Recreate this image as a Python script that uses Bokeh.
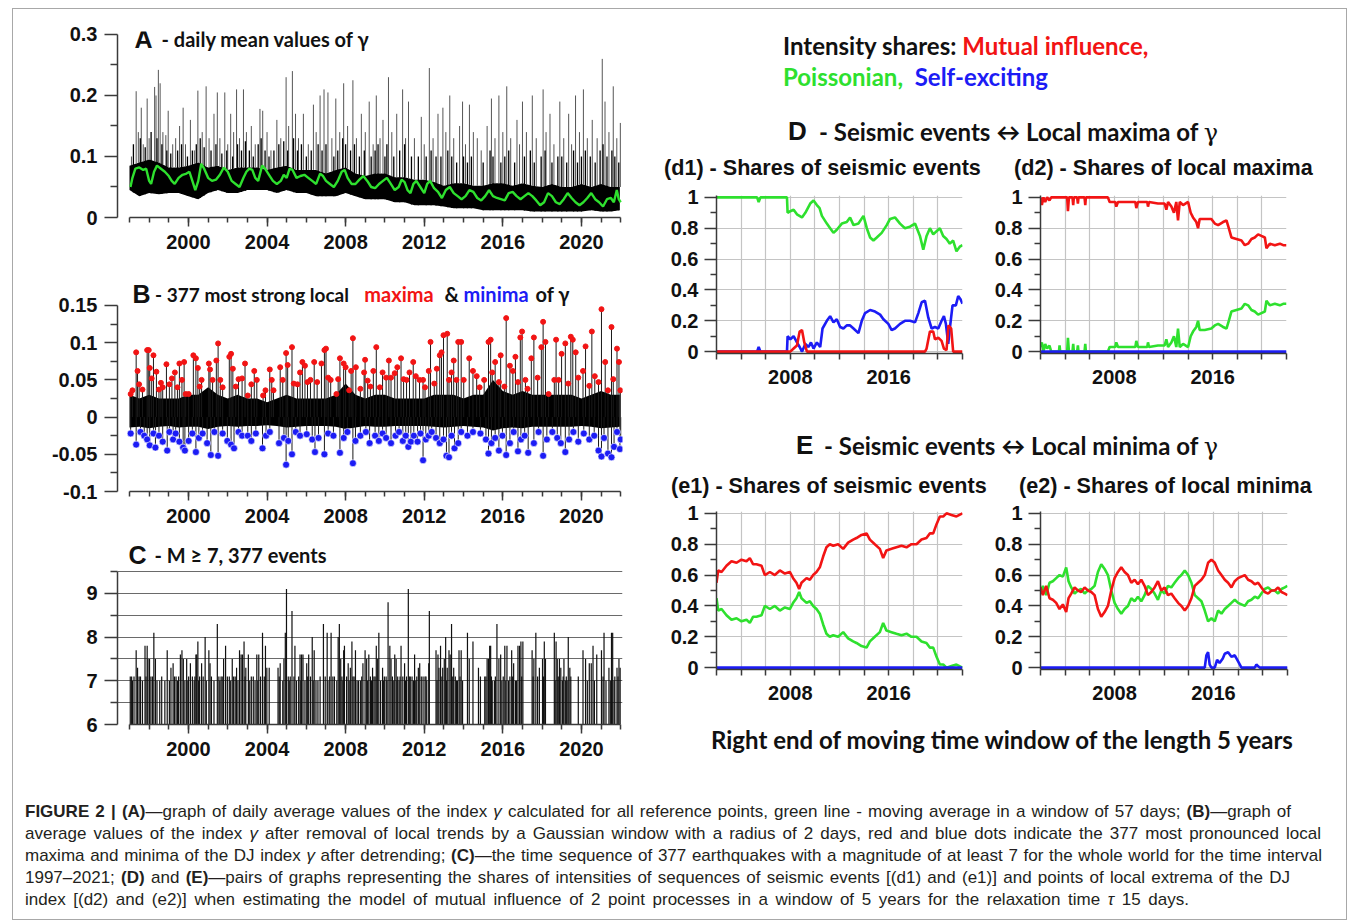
import numpy as np
from bokeh.plotting import figure
from bokeh.models import Range1d, FixedTicker, Label, Div, CustomJSTickFormatter
from bokeh.layouts import column, row
from bokeh.embed import file_html
from bokeh.resources import INLINE

RED = "#f21414"
GREEN = "#2ee02e"
BLUE = "#1c1cf5"
TICK_FONT = "Liberation Sans"
HEAD_FONT = "Lato"

# ---------------- Panel A: daily mean values of gamma ----------------
A_BAND_T = [1997.0, 1997.5, 1998.0, 1998.5, 1999.0, 1999.5, 2000.0, 2000.5, 2001.0, 2001.5,
            2002.0, 2002.5, 2003.0, 2003.5, 2004.0, 2004.5, 2005.0, 2005.5, 2006.0, 2006.5,
            2007.0, 2007.5, 2008.0, 2008.5, 2009.0, 2009.5, 2010.0, 2010.5, 2011.0, 2011.5,
            2012.0, 2012.5, 2013.0, 2013.5, 2014.0, 2014.5, 2015.0, 2015.5, 2016.0, 2016.5,
            2017.0, 2017.5, 2018.0, 2018.5, 2019.0, 2019.5, 2020.0, 2020.5, 2021.0, 2021.5, 2021.95]
A_BAND_LOW = [0.045, 0.035, 0.04, 0.038, 0.04, 0.04, 0.035, 0.03, 0.04, 0.045,
              0.04, 0.04, 0.045, 0.045, 0.045, 0.04, 0.045, 0.04, 0.04, 0.035,
              0.035, 0.035, 0.04, 0.035, 0.03, 0.03, 0.03, 0.025, 0.025, 0.02,
              0.02, 0.02, 0.018, 0.015, 0.015, 0.015, 0.012, 0.012, 0.012, 0.012,
              0.012, 0.01, 0.01, 0.01, 0.01, 0.01, 0.01, 0.012, 0.01, 0.01, 0.012]
A_BAND_HIGH = [0.085, 0.09, 0.095, 0.09, 0.082, 0.082, 0.085, 0.09, 0.082, 0.085,
               0.078, 0.082, 0.082, 0.082, 0.078, 0.082, 0.085, 0.078, 0.078, 0.078,
               0.072, 0.078, 0.082, 0.072, 0.068, 0.072, 0.072, 0.066, 0.066, 0.062,
               0.062, 0.058, 0.052, 0.056, 0.056, 0.052, 0.052, 0.056, 0.056, 0.052,
               0.056, 0.052, 0.05, 0.055, 0.05, 0.05, 0.055, 0.05, 0.055, 0.05, 0.05]
A_SPIKES = [(1997.1, 0.1), (1997.34, 0.207), (1997.45, 0.14), (1997.6, 0.18), (1997.7, 0.12),
            (1997.9, 0.195), (1998.0, 0.13), (1998.28, 0.214), (1998.35, 0.2), (1998.47, 0.242),
            (1998.56, 0.22), (1998.7, 0.14), (1998.85, 0.135), (1998.97, 0.175), (1999.2, 0.12),
            (1999.35, 0.13), (1999.55, 0.15), (1999.73, 0.18), (1999.85, 0.12), (2000.1, 0.16),
            (2000.3, 0.11), (2000.48, 0.208), (2000.7, 0.14), (2000.9, 0.215), (2001.05, 0.13),
            (2001.3, 0.17), (2001.47, 0.205), (2001.6, 0.13), (2001.85, 0.205), (2002.0, 0.12),
            (2002.15, 0.17), (2002.3, 0.14), (2002.45, 0.21), (2002.6, 0.13), (2002.8, 0.21),
            (2002.95, 0.14), (2003.2, 0.15), (2003.4, 0.12), (2003.64, 0.178), (2003.78, 0.175),
            (2004.0, 0.14), (2004.2, 0.11), (2004.5, 0.16), (2004.7, 0.13), (2004.97, 0.23),
            (2005.1, 0.15), (2005.29, 0.24), (2005.45, 0.17), (2005.6, 0.13), (2005.85, 0.17),
            (2006.1, 0.12), (2006.36, 0.185), (2006.5, 0.14), (2006.7, 0.2), (2006.9, 0.21),
            (2007.1, 0.205), (2007.3, 0.13), (2007.5, 0.195), (2007.7, 0.14), (2007.9, 0.22),
            (2008.1, 0.15), (2008.37, 0.225), (2008.55, 0.13), (2008.8, 0.17), (2009.0, 0.14),
            (2009.2, 0.19), (2009.4, 0.12), (2009.56, 0.2), (2009.75, 0.13), (2009.9, 0.16),
            (2010.18, 0.23), (2010.35, 0.14), (2010.6, 0.17), (2010.9, 0.21), (2011.05, 0.13),
            (2011.2, 0.19), (2011.5, 0.13), (2011.85, 0.165), (2012.0, 0.12), (2012.26, 0.245),
            (2012.45, 0.13), (2012.7, 0.17), (2012.95, 0.18), (2013.1, 0.14), (2013.3, 0.2),
            (2013.5, 0.13), (2013.8, 0.15), (2013.95, 0.19), (2014.1, 0.12), (2014.3, 0.185),
            (2014.5, 0.14), (2014.7, 0.13), (2014.9, 0.11), (2015.2, 0.15), (2015.42, 0.195),
            (2015.6, 0.13), (2015.8, 0.2), (2016.0, 0.14), (2016.2, 0.215), (2016.4, 0.13),
            (2016.72, 0.16), (2016.85, 0.12), (2017.0, 0.19), (2017.2, 0.14), (2017.5, 0.2),
            (2017.7, 0.13), (2018.05, 0.21), (2018.2, 0.14), (2018.4, 0.17), (2018.6, 0.12),
            (2018.9, 0.19), (2019.1, 0.13), (2019.35, 0.17), (2019.5, 0.12), (2019.7, 0.2),
            (2019.9, 0.14), (2020.1, 0.21), (2020.3, 0.13), (2020.55, 0.16), (2020.8, 0.13),
            (2021.06, 0.26), (2021.2, 0.19), (2021.4, 0.14), (2021.62, 0.215), (2021.8, 0.13),
            (2021.98, 0.155)]
A_MID = [(1997.2, 0.12), (1997.55, 0.13), (1997.8, 0.115), (1998.1, 0.14), (1998.4, 0.13), (1998.65, 0.12),
         (1998.9, 0.11), (1999.1, 0.105), (1999.45, 0.11), (1999.65, 0.12), (1999.95, 0.1), (2000.2, 0.11),
         (2000.4, 0.12), (2000.6, 0.13), (2000.8, 0.115), (2001.15, 0.11), (2001.4, 0.12), (2001.7, 0.105),
         (2001.95, 0.11), (2002.25, 0.1), (2002.5, 0.12), (2002.7, 0.11), (2002.9, 0.125), (2003.1, 0.11),
         (2003.3, 0.1), (2003.55, 0.12), (2003.7, 0.13), (2003.9, 0.11), (2004.1, 0.1), (2004.35, 0.11),
         (2004.6, 0.12), (2004.85, 0.125), (2005.05, 0.11), (2005.35, 0.13), (2005.55, 0.11), (2005.75, 0.12),
         (2006.0, 0.1), (2006.25, 0.11), (2006.6, 0.12), (2006.8, 0.11), (2007.0, 0.12), (2007.4, 0.1),
         (2007.6, 0.11), (2007.85, 0.13), (2008.0, 0.12), (2008.25, 0.11), (2008.45, 0.12), (2008.7, 0.1),
         (2008.95, 0.11), (2009.3, 0.1), (2009.5, 0.11), (2009.65, 0.12), (2010.0, 0.1), (2010.1, 0.12),
         (2010.45, 0.1), (2010.75, 0.11), (2011.0, 0.12), (2011.35, 0.1), (2011.7, 0.1), (2012.1, 0.1),
         (2012.35, 0.11), (2012.6, 0.1), (2012.85, 0.1), (2013.2, 0.11), (2013.4, 0.1), (2013.65, 0.09),
         (2014.0, 0.1), (2014.2, 0.09), (2014.4, 0.1), (2015.0, 0.09), (2015.35, 0.11), (2015.5, 0.1),
         (2015.9, 0.09), (2016.1, 0.1), (2016.3, 0.11), (2016.6, 0.09), (2017.1, 0.1), (2017.4, 0.11),
         (2017.6, 0.09), (2017.95, 0.1), (2018.15, 0.11), (2018.5, 0.09), (2018.8, 0.1), (2019.0, 0.1),
         (2019.25, 0.09), (2019.6, 0.11), (2019.8, 0.09), (2020.0, 0.1), (2020.2, 0.11), (2020.45, 0.1),
         (2020.7, 0.09), (2020.95, 0.11), (2021.1, 0.12), (2021.3, 0.1), (2021.55, 0.11), (2021.7, 0.1),
         (2021.9, 0.09)]
A_GREEN = [(1997.05, 0.05), (1997.15, 0.065), (1997.3, 0.08), (1997.5, 0.082), (1997.7, 0.078),
           (1997.85, 0.08), (1998.0, 0.06), (1998.1, 0.055), (1998.25, 0.075), (1998.4, 0.085),
           (1998.6, 0.08), (1998.8, 0.075), (1999.0, 0.068), (1999.15, 0.06), (1999.3, 0.055),
           (1999.5, 0.065), (1999.7, 0.07), (1999.9, 0.072), (2000.05, 0.075), (2000.2, 0.06),
           (2000.35, 0.045), (2000.5, 0.06), (2000.65, 0.088), (2000.8, 0.08), (2001.0, 0.065),
           (2001.2, 0.06), (2001.4, 0.062), (2001.6, 0.07), (2001.8, 0.082), (2002.0, 0.075),
           (2002.2, 0.06), (2002.4, 0.055), (2002.6, 0.05), (2002.8, 0.065), (2002.95, 0.075),
           (2003.1, 0.08), (2003.25, 0.078), (2003.4, 0.065), (2003.55, 0.06), (2003.75, 0.085),
           (2003.9, 0.08), (2004.1, 0.07), (2004.3, 0.06), (2004.5, 0.055), (2004.7, 0.06),
           (2004.85, 0.07), (2005.0, 0.065), (2005.15, 0.08), (2005.3, 0.078), (2005.5, 0.065),
           (2005.7, 0.068), (2005.9, 0.07), (2006.1, 0.065), (2006.3, 0.06), (2006.5, 0.055),
           (2006.7, 0.072), (2006.85, 0.068), (2007.0, 0.06), (2007.2, 0.055), (2007.4, 0.05),
           (2007.6, 0.06), (2007.8, 0.075), (2007.95, 0.078), (2008.1, 0.065), (2008.3, 0.055),
           (2008.5, 0.055), (2008.7, 0.062), (2008.9, 0.068), (2009.1, 0.06), (2009.3, 0.05),
           (2009.5, 0.048), (2009.7, 0.055), (2009.9, 0.06), (2010.1, 0.065), (2010.3, 0.055),
           (2010.5, 0.045), (2010.7, 0.05), (2010.85, 0.062), (2011.0, 0.058), (2011.15, 0.045),
           (2011.3, 0.04), (2011.45, 0.055), (2011.6, 0.06), (2011.8, 0.05), (2012.0, 0.04),
           (2012.15, 0.055), (2012.3, 0.06), (2012.5, 0.048), (2012.7, 0.042), (2012.9, 0.032),
           (2013.1, 0.045), (2013.3, 0.05), (2013.5, 0.04), (2013.7, 0.035), (2013.9, 0.03),
           (2014.1, 0.035), (2014.3, 0.045), (2014.5, 0.042), (2014.7, 0.032), (2014.9, 0.028),
           (2015.1, 0.035), (2015.3, 0.045), (2015.5, 0.035), (2015.7, 0.032), (2015.9, 0.03),
           (2016.1, 0.028), (2016.3, 0.04), (2016.5, 0.042), (2016.7, 0.035), (2016.9, 0.03),
           (2017.1, 0.035), (2017.3, 0.04), (2017.5, 0.035), (2017.7, 0.028), (2017.9, 0.02),
           (2018.1, 0.025), (2018.3, 0.04), (2018.5, 0.035), (2018.7, 0.025), (2018.9, 0.022),
           (2019.1, 0.03), (2019.3, 0.04), (2019.5, 0.032), (2019.7, 0.025), (2019.9, 0.02),
           (2020.1, 0.025), (2020.3, 0.032), (2020.5, 0.04), (2020.7, 0.03), (2020.9, 0.025),
           (2021.1, 0.018), (2021.3, 0.03), (2021.5, 0.032), (2021.65, 0.025), (2021.8, 0.045),
           (2021.9, 0.03), (2022.0, 0.025)]

# ---------------- Panel B: detrended gamma with extrema ----------------
B_BAND_LOW = [-0.014, -0.013, -0.015, -0.013, -0.012, -0.014, -0.013, -0.013, -0.016, -0.013,
              -0.012, -0.013, -0.012, -0.012, -0.011, -0.012, -0.014, -0.013, -0.012, -0.012,
              -0.012, -0.013, -0.016, -0.014, -0.012, -0.013, -0.013, -0.012, -0.012, -0.012,
              -0.012, -0.013, -0.014, -0.013, -0.012, -0.013, -0.014, -0.018, -0.015, -0.014,
              -0.015, -0.013, -0.013, -0.013, -0.013, -0.013, -0.012, -0.013, -0.015, -0.014, -0.013]
B_BAND_HIGH = [0.03, 0.025, 0.03, 0.025, 0.025, 0.025, 0.03, 0.03, 0.04, 0.03,
               0.025, 0.03, 0.025, 0.025, 0.02, 0.025, 0.03, 0.025, 0.025, 0.025,
               0.025, 0.03, 0.045, 0.03, 0.025, 0.03, 0.03, 0.025, 0.025, 0.025,
               0.025, 0.03, 0.03, 0.03, 0.025, 0.03, 0.03, 0.05, 0.035, 0.03,
               0.035, 0.03, 0.03, 0.03, 0.03, 0.03, 0.025, 0.03, 0.035, 0.03, 0.03]
B_MAXIMA = [(1997.06, 0.031), (1997.15, 0.036), (1997.34, 0.087), (1997.41, 0.062), (1997.49, 0.044),
            (1997.66, 0.037), (1997.9, 0.09), (1997.98, 0.09), (1998.03, 0.066), (1998.13, 0.052),
            (1998.22, 0.083), (1998.37, 0.061), (1998.5, 0.037), (1998.6, 0.046), (1998.69, 0.04),
            (1998.88, 0.071), (1999.03, 0.044), (1999.16, 0.052), (1999.31, 0.06), (1999.44, 0.04),
            (1999.54, 0.072), (1999.67, 0.05), (1999.78, 0.074), (1999.86, 0.031), (2000.01, 0.031),
            (2000.25, 0.083), (2000.38, 0.079), (2000.48, 0.066), (2000.57, 0.041), (2000.67, 0.05),
            (2001.04, 0.072), (2001.1, 0.064), (2001.23, 0.05), (2001.42, 0.076), (2001.51, 0.099),
            (2001.62, 0.05), (2001.74, 0.04), (2002.08, 0.081), (2002.17, 0.085), (2002.26, 0.065),
            (2002.41, 0.041), (2002.55, 0.051), (2002.73, 0.052), (2002.88, 0.072), (2003.02, 0.029),
            (2003.2, 0.044), (2003.35, 0.062), (2003.48, 0.05), (2003.8, 0.029), (2003.92, 0.036),
            (2004.14, 0.064), (2004.24, 0.05), (2004.33, 0.036), (2004.67, 0.067), (2004.8, 0.05),
            (2004.97, 0.086), (2005.05, 0.07), (2005.27, 0.094), (2005.36, 0.045), (2005.55, 0.044),
            (2005.68, 0.06), (2005.8, 0.074), (2005.93, 0.069), (2006.06, 0.047), (2006.21, 0.05),
            (2006.4, 0.074), (2006.55, 0.047), (2006.77, 0.072), (2006.92, 0.09), (2007.0, 0.092),
            (2007.11, 0.053), (2007.24, 0.05), (2007.53, 0.031), (2007.62, 0.051), (2007.71, 0.079),
            (2007.9, 0.072), (2008.0, 0.067), (2008.18, 0.036), (2008.28, 0.062), (2008.37, 0.106),
            (2008.52, 0.067), (2008.75, 0.038), (2008.94, 0.06), (2008.99, 0.077), (2009.12, 0.049),
            (2009.26, 0.041), (2009.41, 0.062), (2009.56, 0.094), (2009.74, 0.04), (2009.88, 0.06),
            (2010.06, 0.053), (2010.2, 0.076), (2010.31, 0.053), (2010.5, 0.059), (2010.63, 0.067),
            (2010.82, 0.079), (2010.95, 0.051), (2011.1, 0.05), (2011.25, 0.06), (2011.44, 0.074),
            (2011.57, 0.055), (2011.76, 0.05), (2011.94, 0.05), (2012.04, 0.04), (2012.23, 0.062),
            (2012.32, 0.101), (2012.51, 0.045), (2012.64, 0.065), (2012.79, 0.083), (2012.88, 0.087),
            (2012.98, 0.11), (2013.17, 0.112), (2013.26, 0.05), (2013.39, 0.06), (2013.5, 0.076),
            (2013.64, 0.05), (2013.73, 0.101), (2013.88, 0.101), (2014.01, 0.05), (2014.29, 0.079),
            (2014.48, 0.062), (2014.67, 0.055), (2014.82, 0.04), (2015.05, 0.05), (2015.27, 0.101),
            (2015.38, 0.104), (2015.46, 0.06), (2015.61, 0.074), (2015.8, 0.047), (2015.89, 0.083),
            (2016.08, 0.041), (2016.17, 0.133), (2016.36, 0.069), (2016.51, 0.062), (2016.64, 0.081),
            (2016.77, 0.047), (2016.89, 0.107), (2016.98, 0.115), (2017.15, 0.05), (2017.26, 0.038),
            (2017.45, 0.079), (2017.58, 0.107), (2017.77, 0.053), (2017.96, 0.094), (2018.05, 0.128),
            (2018.17, 0.101), (2018.33, 0.031), (2018.62, 0.05), (2018.71, 0.104), (2018.84, 0.05),
            (2018.99, 0.085), (2019.18, 0.099), (2019.33, 0.045), (2019.46, 0.108), (2019.56, 0.104),
            (2019.71, 0.087), (2019.84, 0.053), (2020.08, 0.062), (2020.21, 0.095), (2020.4, 0.042),
            (2020.53, 0.115), (2020.68, 0.055), (2020.87, 0.047), (2021.02, 0.145), (2021.21, 0.074),
            (2021.35, 0.036), (2021.53, 0.121), (2021.62, 0.051), (2021.81, 0.092), (2021.91, 0.074),
            (2021.98, 0.036)]
B_MINIMA = [(1997.06, -0.022), (1997.34, -0.037), (1997.56, -0.02), (1997.75, -0.025), (1997.9, -0.03),
            (1998.03, -0.038), (1998.22, -0.022), (1998.32, -0.041), (1998.5, -0.025), (1998.69, -0.033),
            (1998.92, -0.045), (1999.03, -0.02), (1999.22, -0.03), (1999.35, -0.022), (1999.54, -0.033),
            (1999.73, -0.041), (1999.82, -0.045), (2000.01, -0.032), (2000.2, -0.022), (2000.38, -0.047),
            (2000.53, -0.028), (2000.72, -0.022), (2000.95, -0.035), (2001.14, -0.051), (2001.32, -0.02),
            (2001.51, -0.052), (2001.74, -0.022), (2001.98, -0.032), (2002.17, -0.037), (2002.32, -0.042),
            (2002.55, -0.02), (2002.73, -0.025), (2003.02, -0.025), (2003.2, -0.032), (2003.43, -0.022),
            (2003.77, -0.042), (2003.95, -0.025), (2004.14, -0.02), (2004.61, -0.035), (2004.86, -0.028),
            (2004.97, -0.064), (2005.08, -0.032), (2005.27, -0.05), (2005.46, -0.02), (2005.68, -0.025),
            (2006.02, -0.023), (2006.3, -0.03), (2006.44, -0.047), (2006.62, -0.028), (2006.92, -0.05),
            (2007.11, -0.022), (2007.38, -0.025), (2007.71, -0.048), (2007.9, -0.028), (2008.09, -0.02),
            (2008.37, -0.062), (2008.5, -0.032), (2008.75, -0.025), (2009.03, -0.02), (2009.22, -0.035),
            (2009.5, -0.025), (2009.69, -0.032), (2009.88, -0.022), (2010.06, -0.028), (2010.31, -0.035),
            (2010.54, -0.025), (2010.72, -0.02), (2010.91, -0.032), (2011.06, -0.025), (2011.19, -0.04),
            (2011.32, -0.033), (2011.47, -0.025), (2011.66, -0.033), (2011.81, -0.022), (2011.94, -0.058),
            (2012.08, -0.03), (2012.23, -0.025), (2012.38, -0.02), (2012.6, -0.028), (2012.79, -0.035),
            (2012.98, -0.03), (2013.13, -0.052), (2013.26, -0.054), (2013.39, -0.025), (2013.54, -0.042),
            (2013.73, -0.035), (2013.88, -0.02), (2014.2, -0.025), (2014.48, -0.02), (2014.86, -0.022),
            (2015.14, -0.03), (2015.27, -0.049), (2015.42, -0.035), (2015.61, -0.028), (2015.8, -0.045),
            (2015.98, -0.025), (2016.17, -0.051), (2016.36, -0.035), (2016.55, -0.02), (2016.77, -0.046),
            (2016.92, -0.03), (2017.11, -0.025), (2017.29, -0.048), (2017.58, -0.035), (2017.82, -0.02),
            (2018.05, -0.052), (2018.24, -0.03), (2018.52, -0.02), (2018.77, -0.028), (2018.95, -0.035),
            (2019.18, -0.047), (2019.37, -0.03), (2019.59, -0.02), (2019.84, -0.033), (2020.12, -0.022),
            (2020.4, -0.03), (2020.65, -0.025), (2020.87, -0.045), (2021.02, -0.053), (2021.15, -0.028),
            (2021.35, -0.049), (2021.53, -0.054), (2021.66, -0.04), (2021.81, -0.02), (2021.96, -0.043),
            (2022.0, -0.03)]

# ---------------- Panel C: earthquakes M >= 7 ----------------
C_EVENTS = [(1997.04, 7.1), (1997.11, 7.1), (1997.23, 7.1), (1997.34, 7.7), (1997.41, 7.3), (1997.49, 7.1),
            (1997.66, 7.0), (1997.79, 7.8), (1997.9, 7.8), (1997.94, 7.5), (1998.02, 7.5), (1998.09, 7.1),
            (1998.17, 7.1), (1998.24, 8.1), (1998.32, 7.5), (1998.54, 7.0), (1998.64, 7.1), (1998.92, 7.7),
            (1999.03, 7.0), (1999.11, 7.3), (1999.22, 7.4), (1999.29, 7.1), (1999.37, 7.1), (1999.44, 7.0),
            (1999.59, 7.6), (1999.67, 7.7), (1999.74, 7.5), (1999.82, 7.0), (1999.91, 7.5), (2000.01, 7.1),
            (2000.1, 7.4), (2000.2, 7.1), (2000.29, 7.0), (2000.38, 7.6), (2000.42, 7.6), (2000.48, 7.9),
            (2000.57, 7.1), (2000.67, 7.4), (2000.85, 8.0), (2000.91, 7.0), (2001.04, 7.7), (2001.1, 7.4),
            (2001.17, 7.1), (2001.47, 8.3), (2001.55, 7.1), (2001.66, 7.1), (2001.79, 7.5), (2001.89, 7.8),
            (2001.98, 7.1), (2002.08, 7.1), (2002.23, 7.5), (2002.3, 7.1), (2002.45, 7.3), (2002.6, 7.7),
            (2002.68, 7.6), (2002.75, 7.6), (2002.83, 7.9), (2002.92, 7.3), (2003.05, 7.6), (2003.2, 7.1),
            (2003.39, 7.0), (2003.48, 7.6), (2003.58, 7.6), (2003.67, 7.1), (2003.77, 8.1), (2003.86, 7.1),
            (2003.92, 7.8), (2003.99, 7.3), (2004.11, 7.3), (2004.56, 7.3), (2004.67, 7.4), (2004.8, 7.0),
            (2004.86, 7.5), (2004.93, 8.1), (2004.99, 9.1), (2005.08, 7.1), (2005.18, 7.1), (2005.27, 8.6),
            (2005.42, 7.8), (2005.5, 7.0), (2005.61, 7.1), (2005.68, 7.6), (2005.76, 7.6), (2005.83, 7.6),
            (2005.93, 7.0), (2006.02, 7.4), (2006.12, 7.6), (2006.21, 7.1), (2006.3, 8.0), (2006.4, 7.7),
            (2006.49, 7.0), (2006.59, 7.0), (2006.87, 8.3), (2006.96, 7.1), (2007.06, 8.1), (2007.19, 7.1),
            (2007.26, 8.1), (2007.43, 7.1), (2007.62, 8.0), (2007.68, 8.3), (2007.75, 7.5), (2007.81, 7.1),
            (2007.9, 7.7), (2007.94, 7.8), (2008.05, 7.1), (2008.13, 7.4), (2008.24, 7.3), (2008.32, 7.9),
            (2008.43, 7.1), (2008.5, 7.7), (2008.65, 7.0), (2008.75, 7.0), (2008.88, 7.4), (2008.99, 7.7),
            (2009.07, 7.5), (2009.18, 7.6), (2009.26, 7.1), (2009.37, 7.3), (2009.44, 7.1), (2009.56, 7.8),
            (2009.63, 7.5), (2009.69, 8.1), (2009.78, 7.0), (2009.88, 7.3), (2009.97, 7.1), (2010.06, 7.1),
            (2010.16, 8.8), (2010.25, 7.8), (2010.31, 7.5), (2010.38, 7.1), (2010.5, 7.6), (2010.57, 7.5),
            (2010.65, 7.1), (2010.72, 7.0), (2010.82, 7.8), (2010.91, 7.1), (2011.0, 7.4), (2011.1, 7.1),
            (2011.19, 9.1), (2011.29, 7.1), (2011.38, 7.1), (2011.51, 7.6), (2011.62, 7.1), (2011.7, 7.3),
            (2011.77, 7.4), (2011.85, 7.1), (2011.94, 7.1), (2012.04, 7.1), (2012.13, 7.0), (2012.23, 7.4),
            (2012.26, 8.6), (2012.6, 7.7), (2012.7, 7.6), (2012.75, 7.3), (2012.83, 7.8), (2012.94, 7.3),
            (2013.02, 7.5), (2013.09, 8.0), (2013.17, 7.3), (2013.26, 7.7), (2013.32, 7.6), (2013.39, 8.3),
            (2013.5, 7.3), (2013.58, 7.1), (2013.69, 7.0), (2013.77, 7.7), (2013.88, 7.7), (2013.95, 7.0),
            (2014.2, 8.1), (2014.29, 7.5), (2014.48, 7.9), (2014.76, 7.3), (2014.86, 7.1), (2015.08, 7.1),
            (2015.2, 7.5), (2015.27, 7.5), (2015.33, 7.8), (2015.38, 7.8), (2015.46, 7.0), (2015.57, 7.0),
            (2015.7, 8.3), (2015.8, 7.5), (2015.89, 7.6), (2016.02, 7.1), (2016.1, 7.8), (2016.21, 7.8),
            (2016.29, 7.0), (2016.36, 7.1), (2016.45, 7.7), (2016.55, 7.4), (2016.64, 7.0), (2016.77, 7.8),
            (2016.85, 7.8), (2016.92, 7.9), (2017.02, 7.9), (2017.49, 7.7), (2017.58, 7.5), (2017.68, 8.1),
            (2017.77, 7.1), (2017.86, 7.3), (2018.02, 7.5), (2018.11, 7.9), (2018.17, 7.5), (2018.62, 8.1),
            (2018.71, 7.9), (2018.77, 7.5), (2018.88, 7.5), (2018.95, 7.3), (2019.03, 7.0), (2019.11, 7.5),
            (2019.18, 7.0), (2019.27, 7.0), (2019.33, 8.0), (2019.41, 7.3), (2019.46, 7.1), (2019.84, 7.1),
            (2020.08, 7.7), (2020.21, 7.5), (2020.4, 7.4), (2020.5, 7.4), (2020.59, 7.8), (2020.78, 7.6),
            (2021.02, 7.7), (2021.15, 8.1), (2021.25, 7.0), (2021.4, 7.3), (2021.53, 8.1), (2021.59, 8.1),
            (2021.66, 7.0), (2021.81, 7.3), (2021.91, 7.5), (2021.97, 7.3),
            (1997.15, 7.0), (1997.56, 7.1), (1997.84, 7.1), (1998.4, 7.0), (1998.8, 7.0), (1999.5, 7.1),
            (1999.97, 7.0), (2000.33, 7.1), (2000.52, 7.0), (2000.75, 7.1), (2001.3, 7.0), (2001.6, 7.0),
            (2001.72, 7.1), (2002.15, 7.0), (2002.38, 7.1), (2002.52, 7.0), (2002.88, 7.1), (2003.12, 7.0),
            (2003.3, 7.1), (2003.53, 7.0), (2004.62, 7.1), (2005.13, 7.0), (2005.37, 7.1), (2005.72, 7.0),
            (2006.07, 7.1), (2006.35, 7.0), (2006.7, 7.1), (2007.1, 7.0), (2007.35, 7.1), (2007.55, 7.0),
            (2007.86, 7.0), (2008.18, 7.0), (2008.37, 7.1), (2008.58, 7.0), (2008.82, 7.1), (2009.12, 7.0),
            (2009.32, 7.0), (2009.5, 7.1), (2009.92, 7.0), (2010.1, 7.0), (2010.45, 7.0), (2010.61, 7.0),
            (2010.77, 7.1), (2011.05, 7.0), (2011.24, 7.1), (2011.45, 7.0), (2011.57, 7.0), (2012.09, 7.1),
            (2012.65, 7.0), (2012.9, 7.1), (2013.13, 7.0), (2013.45, 7.1), (2013.64, 7.0), (2013.82, 7.1),
            (2015.14, 7.1), (2015.42, 7.1), (2015.62, 7.1), (2015.95, 7.0), (2016.15, 7.0), (2016.5, 7.1),
            (2016.7, 7.0), (2016.96, 7.1), (2017.54, 7.1), (2018.07, 7.1), (2018.66, 7.0), (2018.82, 7.1),
            (2019.07, 7.1), (2019.23, 7.1), (2020.3, 7.0), (2020.66, 7.0), (2021.1, 7.1), (2021.47, 7.0),
            (2021.7, 7.1), (2021.86, 7.1)]

# ---------------- Panels D and E: intensity shares ----------------
D1_GREEN = [(2002.0, 1.0), (2005.3, 1.0), (2005.43, 0.97), (2005.57, 1.0), (2007.73, 1.0), (2007.78, 0.9),
            (2008.0, 0.91), (2008.27, 0.92), (2008.54, 0.89), (2008.95, 0.87), (2009.22, 0.9), (2009.62, 0.96),
            (2009.89, 0.98), (2010.16, 0.95), (2010.38, 0.93), (2010.57, 0.88), (2010.97, 0.83), (2011.24, 0.8),
            (2011.51, 0.77), (2011.78, 0.79), (2012.19, 0.83), (2012.59, 0.84), (2012.86, 0.87), (2013.14, 0.82),
            (2013.54, 0.83), (2013.95, 0.88), (2014.22, 0.8), (2014.49, 0.74), (2014.76, 0.72), (2015.03, 0.74),
            (2015.43, 0.77), (2015.84, 0.82), (2016.11, 0.86), (2016.51, 0.87), (2016.92, 0.83), (2017.32, 0.8),
            (2017.73, 0.81), (2018.14, 0.83), (2018.54, 0.75), (2018.81, 0.66), (2019.08, 0.75), (2019.35, 0.8),
            (2019.62, 0.76), (2019.89, 0.78), (2020.16, 0.8), (2020.43, 0.75), (2020.7, 0.73), (2020.97, 0.7),
            (2021.24, 0.72), (2021.51, 0.65), (2021.78, 0.68), (2022.0, 0.69)]
D1_BLUE = [(2002.0, 0.0), (2005.3, 0.0), (2005.43, 0.03), (2005.57, 0.0), (2007.73, 0.0), (2007.78, 0.1),
           (2008.0, 0.08), (2008.27, 0.1), (2008.54, 0.06), (2008.76, 0.03), (2008.95, 0.0), (2009.22, 0.05),
           (2009.49, 0.03), (2009.68, 0.06), (2009.89, 0.02), (2010.16, 0.06), (2010.43, 0.03), (2010.62, 0.15),
           (2010.97, 0.2), (2011.24, 0.23), (2011.51, 0.19), (2011.78, 0.21), (2012.05, 0.16), (2012.32, 0.15),
           (2012.59, 0.17), (2012.86, 0.17), (2013.14, 0.15), (2013.54, 0.12), (2013.81, 0.2), (2014.08, 0.25),
           (2014.49, 0.27), (2014.89, 0.26), (2015.3, 0.24), (2015.57, 0.21), (2015.97, 0.18), (2016.24, 0.14),
           (2016.51, 0.15), (2016.92, 0.18), (2017.32, 0.2), (2017.73, 0.2), (2018.14, 0.19), (2018.41, 0.25),
           (2018.68, 0.32), (2018.95, 0.33), (2019.22, 0.22), (2019.49, 0.15), (2019.76, 0.16), (2020.03, 0.15),
           (2020.3, 0.2), (2020.49, 0.23), (2020.65, 0.18), (2020.84, 0.05), (2020.97, 0.15), (2021.19, 0.3),
           (2021.46, 0.3), (2021.65, 0.36), (2021.84, 0.34), (2022.0, 0.31)]
D1_RED = [(2002.0, 0.0), (2008.0, 0.0), (2008.27, 0.02), (2008.54, 0.04), (2008.76, 0.13), (2008.95, 0.14),
          (2009.14, 0.06), (2009.35, 0.0), (2018.95, 0.0), (2019.08, 0.02), (2019.35, 0.13), (2019.62, 0.13),
          (2019.76, 0.08), (2020.03, 0.09), (2020.3, 0.07), (2020.49, 0.02), (2020.7, 0.01), (2020.86, 0.17),
          (2021.08, 0.15), (2021.24, 0.0), (2022.0, 0.0)]
D2_RED = [(2002.0, 1.0), (2002.11, 0.95), (2002.24, 1.0), (2002.38, 0.97), (2002.54, 1.0), (2002.73, 0.98),
          (2002.87, 1.0), (2004.17, 1.0), (2004.23, 0.91), (2004.31, 1.0), (2004.6, 1.0), (2004.66, 0.95),
          (2004.71, 1.0), (2004.98, 1.0), (2005.04, 0.96), (2005.09, 1.0), (2005.58, 1.0), (2005.64, 0.95),
          (2005.69, 1.0), (2007.48, 1.0), (2007.62, 0.97), (2008.08, 0.97), (2008.16, 0.94), (2008.3, 0.97),
          (2009.71, 0.97), (2009.79, 0.93), (2009.92, 0.97), (2010.68, 0.97), (2010.74, 0.94), (2010.82, 0.97),
          (2011.55, 0.96), (2012.09, 0.96), (2012.23, 0.92), (2012.37, 0.97), (2012.64, 0.94), (2012.85, 0.9),
          (2013.04, 0.97), (2013.18, 0.85), (2013.32, 0.97), (2013.59, 0.95), (2014.0, 0.97), (2014.21, 0.9),
          (2014.4, 0.87), (2014.67, 0.84), (2014.81, 0.8), (2014.94, 0.86), (2015.35, 0.86), (2015.89, 0.86),
          (2016.17, 0.83), (2016.44, 0.82), (2016.84, 0.84), (2017.12, 0.85), (2017.31, 0.8), (2017.52, 0.74),
          (2017.93, 0.73), (2018.34, 0.72), (2018.61, 0.69), (2018.88, 0.7), (2019.15, 0.73), (2019.42, 0.74),
          (2019.69, 0.76), (2019.96, 0.75), (2020.24, 0.74), (2020.37, 0.67), (2020.64, 0.7), (2021.05, 0.69),
          (2021.46, 0.7), (2021.73, 0.69), (2022.0, 0.69)]
D2_GREEN = [(2002.0, 0.03), (2002.11, 0.06), (2002.24, 0.0), (2002.38, 0.05), (2002.54, 0.02), (2002.73, 0.04),
            (2002.87, 0.0), (2003.5, 0.0), (2003.55, 0.04), (2003.6, 0.0), (2004.17, 0.0), (2004.23, 0.09),
            (2004.31, 0.0), (2004.6, 0.0), (2004.66, 0.05), (2004.71, 0.0), (2004.98, 0.0), (2005.04, 0.04),
            (2005.09, 0.0), (2005.58, 0.0), (2005.64, 0.05), (2005.69, 0.0), (2007.48, 0.0), (2007.62, 0.03),
            (2008.08, 0.03), (2008.16, 0.06), (2008.3, 0.03), (2009.71, 0.03), (2009.79, 0.07), (2009.92, 0.03),
            (2010.68, 0.03), (2010.74, 0.06), (2010.82, 0.03), (2011.55, 0.04), (2012.09, 0.04), (2012.23, 0.08),
            (2012.37, 0.03), (2012.64, 0.06), (2012.85, 0.1), (2013.04, 0.03), (2013.18, 0.15), (2013.32, 0.03),
            (2013.59, 0.05), (2014.0, 0.03), (2014.21, 0.1), (2014.4, 0.13), (2014.67, 0.16), (2014.81, 0.2),
            (2014.94, 0.14), (2015.35, 0.14), (2015.89, 0.15), (2016.17, 0.17), (2016.44, 0.18), (2016.84, 0.16),
            (2017.12, 0.15), (2017.31, 0.2), (2017.52, 0.26), (2017.93, 0.27), (2018.34, 0.28), (2018.61, 0.31),
            (2018.88, 0.3), (2019.15, 0.27), (2019.42, 0.26), (2019.69, 0.24), (2019.96, 0.25), (2020.24, 0.26),
            (2020.37, 0.33), (2020.64, 0.3), (2021.05, 0.31), (2021.46, 0.3), (2021.73, 0.31), (2022.0, 0.31)]
D2_BLUE = [(2002.0, 0.0), (2022.0, 0.0)]

E1_T = [2002.0, 2002.14, 2002.41, 2002.81, 2003.22, 2003.63, 2004.03, 2004.44, 2004.71, 2004.98,
        2005.25, 2005.66, 2005.93, 2006.34, 2006.74, 2007.15, 2007.56, 2007.96, 2008.23, 2008.5,
        2008.72, 2008.91, 2009.32, 2009.59, 2009.86, 2010.13, 2010.4, 2010.67, 2010.94, 2011.21,
        2011.49, 2011.89, 2012.3, 2012.7, 2013.11, 2013.38, 2013.79, 2014.2, 2014.47, 2014.87,
        2015.28, 2015.55, 2015.82, 2016.23, 2016.63, 2017.04, 2017.45, 2017.85, 2018.26, 2018.67,
        2019.07, 2019.34, 2019.62, 2019.89, 2020.16, 2020.43, 2020.7, 2021.1, 2021.51, 2022.0]
E1_RED = [0.55, 0.63, 0.62, 0.66, 0.69, 0.68, 0.7, 0.69, 0.71, 0.67,
          0.67, 0.66, 0.6, 0.62, 0.6, 0.63, 0.61, 0.62, 0.58, 0.55,
          0.51, 0.55, 0.58, 0.57, 0.6, 0.62, 0.65, 0.72, 0.78, 0.8,
          0.79, 0.8, 0.77, 0.81, 0.83, 0.84, 0.86, 0.87, 0.83, 0.8,
          0.77, 0.71, 0.76, 0.77, 0.78, 0.79, 0.78, 0.8, 0.8, 0.83,
          0.84, 0.87, 0.87, 0.93, 0.98, 0.98, 1.0, 0.99, 0.98, 1.0]
E1_GREEN = [0.45, 0.37, 0.38, 0.34, 0.31, 0.32, 0.3, 0.31, 0.29, 0.33,
            0.33, 0.34, 0.4, 0.38, 0.4, 0.37, 0.39, 0.38, 0.42, 0.45,
            0.49, 0.45, 0.42, 0.43, 0.4, 0.38, 0.35, 0.28, 0.22, 0.2,
            0.21, 0.2, 0.23, 0.19, 0.17, 0.16, 0.14, 0.13, 0.17, 0.2,
            0.23, 0.29, 0.24, 0.23, 0.22, 0.21, 0.22, 0.2, 0.2, 0.17,
            0.16, 0.13, 0.13, 0.07, 0.02, 0.02, 0.0, 0.01, 0.02, 0.0]
E1_BLUE = [(2002.0, 0.0), (2022.0, 0.0)]

E2_T = [2002.0, 2002.19, 2002.46, 2002.73, 2003.0, 2003.27, 2003.54, 2003.81, 2004.08, 2004.27,
        2004.49, 2004.76, 2005.03, 2005.3, 2005.57, 2005.84, 2006.11, 2006.38, 2006.65, 2006.92,
        2007.19, 2007.46, 2007.73, 2008.0, 2008.27, 2008.54, 2008.81, 2009.08, 2009.35, 2009.62,
        2009.89, 2010.16, 2010.43, 2010.7, 2010.97, 2011.24, 2011.51, 2011.78, 2012.05, 2012.32,
        2012.59, 2012.86, 2013.14, 2013.41, 2013.68, 2013.95, 2014.22, 2014.49, 2014.76, 2015.03,
        2015.3, 2015.57, 2015.84, 2016.11, 2016.38, 2016.65, 2016.92, 2017.19, 2017.46, 2017.73,
        2018.0, 2018.27, 2018.54, 2018.81, 2019.08, 2019.35, 2019.62, 2019.89, 2020.16, 2020.43,
        2020.7, 2020.97, 2021.24, 2021.51, 2021.78, 2022.0]
E2_RED = [0.52, 0.47, 0.53, 0.45, 0.44, 0.42, 0.38, 0.41, 0.36, 0.45,
          0.48, 0.52, 0.5, 0.49, 0.52, 0.5, 0.49, 0.47, 0.38, 0.33,
          0.36, 0.4, 0.5, 0.58, 0.62, 0.65, 0.62, 0.6, 0.55, 0.57,
          0.54, 0.57, 0.53, 0.47, 0.49, 0.52, 0.56, 0.5, 0.52, 0.47,
          0.48, 0.45, 0.42, 0.4, 0.37, 0.4, 0.45, 0.53, 0.55, 0.57,
          0.6, 0.68, 0.7, 0.68, 0.63, 0.6, 0.57, 0.55, 0.52, 0.56,
          0.58, 0.59, 0.6, 0.57, 0.56, 0.54, 0.55, 0.52, 0.49, 0.48,
          0.5, 0.5, 0.52, 0.49, 0.48, 0.47]
E2_GREEN = [0.48, 0.53, 0.47, 0.55, 0.56, 0.58, 0.6, 0.59, 0.65, 0.56,
            0.52, 0.48, 0.5, 0.51, 0.48, 0.5, 0.51, 0.53, 0.62, 0.67,
            0.64, 0.6, 0.5, 0.42, 0.38, 0.35, 0.38, 0.4, 0.45, 0.43,
            0.46, 0.43, 0.47, 0.53, 0.51, 0.48, 0.44, 0.5, 0.48, 0.53,
            0.52, 0.55, 0.58, 0.6, 0.63, 0.6, 0.55, 0.47, 0.45, 0.43,
            0.37, 0.3, 0.32, 0.3, 0.37, 0.35, 0.38, 0.4, 0.42, 0.44,
            0.42, 0.41, 0.4, 0.43, 0.44, 0.46, 0.45, 0.48, 0.51, 0.52,
            0.5, 0.5, 0.48, 0.51, 0.52, 0.53]
E2_BLUE = [(2002.0, 0.0), (2015.3, 0.0), (2015.43, 0.08), (2015.57, 0.1), (2015.7, 0.02), (2015.84, 0.0),
           (2016.11, 0.0), (2016.3, 0.05), (2016.5, 0.03), (2016.76, 0.06), (2016.92, 0.09), (2017.19, 0.1),
           (2017.46, 0.07), (2017.73, 0.08), (2018.0, 0.04), (2018.27, 0.0), (2019.35, 0.0), (2019.48, 0.02),
           (2019.62, 0.01), (2019.75, 0.0), (2022.0, 0.0)]

YEAR_TICKS_LEFT = [2000, 2004, 2008, 2012, 2016, 2020]
YEAR_MINOR_LEFT = list(range(1997, 2023))
YEAR_TICKS_RIGHT = list(range(2002, 2023, 2))
YEAR_LABELS_RIGHT = [2008, 2016]

NUM_FMT = "return String(Math.round(tick*100)/100);"
YEAR_FMT = "return String(Math.round(tick));"
YEAR_SEL_FMT = ("var y = Math.round(tick); return (" +
                " || ".join("y == %d" % y for y in YEAR_LABELS_RIGHT) + ") ? String(y) : '';")


def unzip(pairs):
    return [a for a, _ in pairs], [b for _, b in pairs]


def make_fig(w, h, xr, yr, ml, mr, mt, mb):
    p = figure(width=w, height=h, x_range=Range1d(*xr), y_range=Range1d(*yr),
               output_backend="svg", toolbar_location=None,
               min_border_left=ml, min_border_right=mr, min_border_top=mt, min_border_bottom=mb)
    p.outline_line_color = None
    p.background_fill_color = "white"
    p.border_fill_color = "white"
    p.xgrid.visible = False
    p.ygrid.visible = False
    return p


def style_axis(ax, ticks, minor, code, size, tick_out, minor_out, standoff, bounds=None, color="#3a3a3a"):
    ax.ticker = FixedTicker(ticks=ticks, minor_ticks=minor)
    ax.formatter = CustomJSTickFormatter(code=code)
    ax.major_label_text_font = TICK_FONT
    ax.major_label_text_font_style = "bold"
    ax.major_label_text_font_size = size
    ax.major_label_text_color = "#111111"
    ax.axis_line_color = color
    ax.axis_line_width = 1.5
    ax.major_tick_line_color = color
    ax.major_tick_line_width = 1.5
    ax.minor_tick_line_color = color
    ax.minor_tick_line_width = 1.5
    ax.major_tick_in = 0
    ax.minor_tick_in = 0
    ax.major_tick_out = tick_out
    ax.minor_tick_out = minor_out
    ax.major_label_standoff = standoff
    if bounds is not None:
        ax.bounds = bounds


def add_label(p, x, y, text, size, font=HEAD_FONT, color="#111111", style="bold"):
    p.add_layout(Label(x=x, y=y, text=text, text_font=font, text_font_size=size,
                       text_font_style=style, text_color=color, text_baseline="middle",
                       text_align="left"))


LEFT_X = (1996.39, 2022.09)

# ---- A ----
pA = make_fig(628, 262, LEFT_X, (0.0, 0.3049), 104, 19, 22, 54)
style_axis(pA.xaxis[0], YEAR_TICKS_LEFT, YEAR_MINOR_LEFT, YEAR_FMT, "20px", 9, 5, 8, bounds=(1997, 2022))
style_axis(pA.yaxis[0], [0, 0.1, 0.2, 0.3], [0.05, 0.15, 0.25], NUM_FMT, "20px", 13, 7, 7, bounds=(0, 0.3))
pA.varea(x=A_BAND_T, y1=A_BAND_LOW, y2=A_BAND_HIGH, color="black")
st, sv = unzip(A_SPIKES)
s_top = list(np.interp(st, A_BAND_T, A_BAND_HIGH))
pA.segment(x0=st, y0=s_top, x1=st, y1=sv, line_color="#555555", line_width=1)
mt0, mv0 = unzip(A_MID)
m_low = list(np.interp(mt0, A_BAND_T, A_BAND_LOW))
pA.segment(x0=mt0, y0=m_low, x1=mt0, y1=mv0, line_color="black", line_width=1.3)
gt, gv = unzip(A_GREEN)
pA.line(gt, gv, line_color=GREEN, line_width=2.4)
add_label(pA, 1997.26, 0.292, "A", "25px", font=TICK_FONT)
add_label(pA, 1998.63, 0.292, "- daily mean values of \u03b3", "20px")

# ---- B ----
pB = make_fig(628, 260, LEFT_X, (-0.1, 0.1849), 104, 19, 8, 40)
style_axis(pB.xaxis[0], YEAR_TICKS_LEFT, YEAR_MINOR_LEFT, YEAR_FMT, "20px", 9, 5, 8, bounds=(1997, 2022))
style_axis(pB.yaxis[0], [-0.1, -0.05, 0, 0.05, 0.1, 0.15], [-0.075, -0.025, 0.025, 0.075, 0.125],
           NUM_FMT, "20px", 13, 7, 7, bounds=(-0.1, 0.15))
pB.varea(x=A_BAND_T, y1=B_BAND_LOW, y2=B_BAND_HIGH, color="black")
mt_, mv_ = unzip(B_MAXIMA)
nt_, nv_ = unzip(B_MINIMA)
pB.segment(x0=mt_, y0=[0] * len(mt_), x1=mt_, y1=mv_, line_color="#1a1a1a", line_width=1)
pB.segment(x0=nt_, y0=[0] * len(nt_), x1=nt_, y1=nv_, line_color="#1a1a1a", line_width=1)
pB.scatter(mt_, mv_, size=5, fill_color=RED, line_color=RED)
pB.scatter(nt_, nv_, size=7, fill_color=BLUE, line_color="white", line_width=0.6)
add_label(pB, 1997.15, 0.165, "B", "25px", font=TICK_FONT)
add_label(pB, 1998.3, 0.165, "- 377 most strong local", "19px")
add_label(pB, 2008.95, 0.165, "maxima", "20px", color=RED)
add_label(pB, 2013.03, 0.165, "&", "20px")
add_label(pB, 2014.0, 0.165, "minima", "20px", color=BLUE)
add_label(pB, 2017.66, 0.165, "of \u03b3", "20px")

# ---- C ----
pC = make_fig(628, 240, LEFT_X, (6.0, 10.188), 104, 19, 10, 47)
style_axis(pC.xaxis[0], YEAR_TICKS_LEFT, YEAR_MINOR_LEFT, YEAR_FMT, "20px", 9, 5, 8, bounds=(1997, 2022))
style_axis(pC.yaxis[0], [6, 7, 8, 9], [6.5, 7.5, 8.5, 9.5], NUM_FMT, "20px", 13, 7, 7, bounds=(6, 9.5))
pC.ygrid.visible = True
pC.ygrid.ticker = FixedTicker(ticks=[6.5, 7, 7.5, 8, 8.5, 9, 9.5])
pC.ygrid.grid_line_color = "#6a6a6a"
pC.ygrid.grid_line_width = 1
ct, cm = unzip(C_EVENTS)
pC.segment(x0=ct, y0=[6] * len(ct), x1=ct, y1=cm, line_color="#111111", line_width=1.2)
add_label(pC, 1996.95, 9.89, "C", "25px", font=TICK_FONT)
add_label(pC, 1998.27, 9.89, "- M \u2265 7, 377 events", "20px")


# ---- shares panels ----
def share_fig(w, h, ml, mr, mt, mb, series):
    p = make_fig(w, h, (2002, 2022), (-0.012, 1.012), ml, mr, mt, mb)
    style_axis(p.xaxis[0], YEAR_TICKS_RIGHT, [], YEAR_SEL_FMT, "20px", 6, 0, 10)
    style_axis(p.yaxis[0], [0, 0.2, 0.4, 0.6, 0.8, 1.0], [0.1, 0.3, 0.5, 0.7, 0.9], NUM_FMT, "20px", 12, 6, 6)
    p.xgrid.visible = True
    p.ygrid.visible = True
    p.xgrid.ticker = FixedTicker(ticks=YEAR_TICKS_RIGHT)
    p.ygrid.ticker = FixedTicker(ticks=[0, 0.2, 0.4, 0.6, 0.8, 1.0])
    for g in (p.xgrid, p.ygrid):
        g.grid_line_color = "#c4c4c4"
        g.grid_line_width = 1.2
    for xs, ys, col in series:
        p.line(xs, ys, line_color=col, line_width=2.6)
    return p


d1 = share_fig(335, 218, 75, 14, 12, 48, [(*unzip(D1_GREEN), GREEN), (*unzip(D1_BLUE), BLUE), (*unzip(D1_RED), RED)])
d2 = share_fig(370, 218, 64, 60, 12, 48, [(*unzip(D2_GREEN), GREEN), (*unzip(D2_RED), RED), (*unzip(D2_BLUE), BLUE)])
e1 = share_fig(335, 215, 75, 14, 10, 47, [(E1_T, E1_GREEN, GREEN), (E1_T, E1_RED, RED), (*unzip(E1_BLUE), BLUE)])
e2 = share_fig(370, 215, 64, 59, 10, 47, [(E2_T, E2_GREEN, GREEN), (E2_T, E2_RED, RED), (*unzip(E2_BLUE), BLUE)])


def text_div(width, height, items):
    parts = ['<div style="position:relative;width:%dpx;height:%dpx;">' % (width, height)]
    for left, cy, html, font, size, weight in items:
        lh = int(size * 1.4)
        parts.append('<div style="position:absolute;left:%dpx;top:%dpx;line-height:%dpx;white-space:nowrap;'
                     'font-family:%s;font-size:%spx;font-weight:%s;color:#111;">%s</div>'
                     % (left, cy - lh // 2, lh, font, size, weight, html))
    parts.append('</div>')
    return Div(text="".join(parts), width=width, height=height, margin=0)


GAMMA = '<span style="font-family:\'DejaVu Serif\';font-weight:normal;">\u03b3</span>'
hdr = text_div(705, 92, [
    (142, 36, 'Intensity shares: <span style="color:%s">Mutual influence,</span>' % RED, "Lato", 24, "bold"),
    (142, 67, '<span style="color:%s">Poissonian,</span>&nbsp; <span style="color:%s">Self-exciting</span>'
     % (GREEN, BLUE), "Lato", 24, "bold"),
])
dhdr = text_div(705, 50, [
    (147, 30, 'D', "Liberation Sans", 26, "bold"),
    (178, 30, '- Seismic events \u2194 Local maxima of ' + GAMMA, "Lato", 24, "bold"),
])
dtitles = text_div(705, 32, [
    (23, 17, '(d1) - Shares of seismic events', "Liberation Sans", 21.6, "bold"),
    (373, 17, '(d2) - Shares of local maxima', "Liberation Sans", 21.6, "bold"),
])
ehdr = text_div(705, 65, [
    (155, 44, 'E', "Liberation Sans", 26, "bold"),
    (183, 44, '- Seismic events \u2194 Local minima of ' + GAMMA, "Lato", 24, "bold"),
])
etitles = text_div(705, 35, [
    (30, 20, '(e1) - Shares of seismic events', "Liberation Sans", 21.6, "bold"),
    (378, 20, '(e2) - Shares of local minima', "Liberation Sans", 21.6, "bold"),
])
bottom = text_div(705, 55, [
    (70, 23, 'Right end of moving time window of the length 5 years', "Lato", 24, "bold"),
])

CAPTION_LINES = [
    ('<b>FIGURE 2 | (A)</b>\u2014graph of daily average values of the index <i>\u03b3</i> calculated for all '
     'reference points, green line - moving average in a window of 57 days; <b>(B)</b>\u2014graph of', 1266),
    ('average values of the index <i>\u03b3</i> after removal of local trends by a Gaussian window with a radius '
     'of 2 days, red and blue dots indicate the 377 most pronounced local', 1296),
    ('maxima and minima of the DJ index <i>\u03b3</i> after detrending; <b>(C)</b>\u2014the time sequence of 377 '
     'earthquakes with a magnitude of at least 7 for the whole world for the time interval', 1297),
    ('1997\u20132021; <b>(D)</b> and <b>(E)</b>\u2014pairs of graphs representing the shares of intensities of '
     'sequences of seismic events [(d1) and (e1)] and points of local extrema of the DJ', 1265),
    ('index [(d2) and (e2)] when estimating the model of mutual influence of 2 point processes in a window of '
     '5 years for the relaxation time <i>\u03c4</i> 15 days.', 1164),
]
cap_parts = ['<div style="position:relative;width:1333px;height:148px;font-family:\'Liberation Sans\';'
             'font-size:17px;color:#231f20;">']
for i, (txt, w) in enumerate(CAPTION_LINES):
    top = 30 + 22 * i
    cap_parts.append('<div style="position:absolute;left:12px;top:%dpx;width:%dpx;line-height:22px;'
                     'text-align:justify;text-align-last:justify;white-space:normal;">%s</div>' % (top, w, txt))
cap_parts.append('</div>')
caption = Div(text="".join(cap_parts), width=1333, height=148, margin=0)

left_col = column(pA, pB, pC, spacing=0, margin=0)
right_col = column(hdr, dhdr, dtitles, row(d1, d2, spacing=0, margin=0), ehdr, etitles,
                   row(e1, e2, spacing=0, margin=0), bottom, spacing=0, margin=0)
top_row = row(left_col, right_col, spacing=0, margin=0)
layout = column(top_row, caption, spacing=0, margin=(8, 0, 0, 12),
                styles={"border": "1px solid #a8a8a8"})

open("out.html", "w").write(file_html(layout, INLINE))
